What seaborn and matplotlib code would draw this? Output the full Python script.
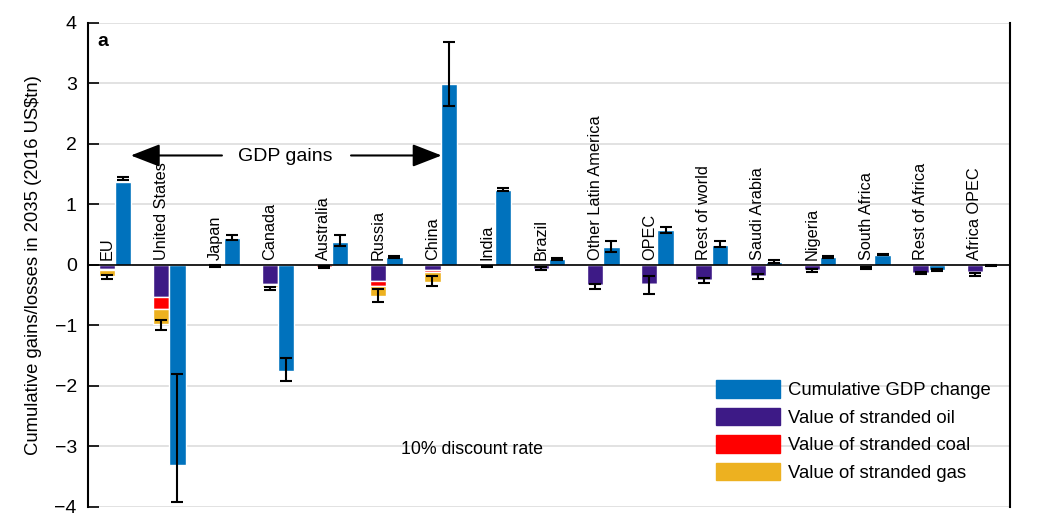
import matplotlib
matplotlib.use('Agg')
import matplotlib.pyplot as plt
import numpy as np
import seaborn as sns
from matplotlib.patches import Patch

# Regions and values (US$tn, 2016)
regions = ['EU', 'United States', 'Japan', 'Canada', 'Australia', 'Russia',
           'China', 'India', 'Brazil', 'Other Latin America', 'OPEC',
           'Rest of world', 'Saudi Arabia', 'Nigeria', 'South Africa',
           'Rest of Africa', 'Africa OPEC']

oil = [-0.07, -0.525, -0.01, -0.32, -0.005, -0.27, -0.08, -0.005, -0.06, -0.33,
       -0.315, -0.25, -0.18, -0.083, -0.015, -0.128, -0.11]
coal = [-0.015, -0.205, 0.0, -0.005, -0.025, -0.07, -0.035, -0.015, 0.0, 0.0,
        0.0, 0.0, 0.0, 0.0, 0.0, 0.0, 0.0]
gas = [-0.10, -0.24, -0.005, -0.045, 0.0, -0.18, -0.16, 0.0, -0.005, -0.005,
       -0.005, -0.012, -0.005, -0.005, -0.02, -0.005, -0.03]
stranded_err_lo = [-0.23, -1.07, -0.03, -0.41, -0.05, -0.62, -0.34, -0.04, -0.08, -0.39,
                   -0.48, -0.30, -0.225, -0.11, -0.07, -0.15, -0.19]
stranded_err_hi = [-0.16, -0.91, -0.005, -0.36, -0.01, -0.40, -0.19, -0.01, -0.04, -0.32,
                   -0.18, -0.22, -0.155, -0.07, -0.03, -0.12, -0.14]

gdp = [1.37, -3.30, 0.44, -1.75, 0.38, 0.13, 2.985, 1.245, 0.10, 0.29,
       0.58, 0.325, 0.045, 0.14, 0.17, -0.083, -0.01]
gdp_err_lo = [1.40, -3.91, 0.41, -1.91, 0.32, 0.12, 2.62, 1.23, 0.09, 0.22,
              0.53, 0.29, 0.03, 0.11, 0.16, -0.10, -0.02]
gdp_err_hi = [1.46, -1.81, 0.50, -1.53, 0.50, 0.15, 3.68, 1.27, 0.12, 0.39,
              0.62, 0.40, 0.09, 0.15, 0.18, -0.06, 0.0]

c_gdp = '#0072BD'
c_oil = '#3d1a86'
c_coal = '#ff0000'
c_gas = '#EDB120'

sns.set_theme(style='white')
plt.rcParams['font.family'] = ['Liberation Sans', 'DejaVu Sans']
plt.rcParams['text.color'] = 'black'
plt.rcParams['axes.labelcolor'] = 'black'
plt.rcParams['ytick.color'] = 'black'

fig = plt.figure(figsize=(10.46, 5.21), dpi=100)
ax = fig.add_axes([0.0841, 0.0269, 0.8815, 0.9290])

x = np.arange(len(regions))
w = 0.3
oil = np.array(oil)
coal = np.array(coal)
gas = np.array(gas)

# stacked stranded assets (negative), left bar of each group
ax.bar(x - w / 2, oil, width=w, color=c_oil, zorder=3)
ax.bar(x - w / 2, coal, width=w, bottom=oil, color=c_coal, zorder=3)
ax.bar(x - w / 2, gas, width=w, bottom=oil + coal, color=c_gas, zorder=3)

# GDP change, right bar
ax.bar(x + w / 2, gdp, width=w, color=c_gdp, zorder=3)

def draw_err(xs, lo, hi):
    lo = np.array(lo)
    hi = np.array(hi)
    ax.errorbar(xs, (lo + hi) / 2, yerr=(hi - lo) / 2, fmt='none',
                ecolor='black', elinewidth=1.5, capsize=4, capthick=1.5, zorder=4)

draw_err(x - w / 2, stranded_err_lo, stranded_err_hi)
draw_err(x + w / 2, gdp_err_lo, gdp_err_hi)

ax.axhline(0, color='black', lw=1.2, zorder=5)

# region labels
for i, name in enumerate(regions):
    ax.text(i - w / 2, 0.09, name, rotation=90, ha='center', va='bottom',
            fontsize=11.7, zorder=6)

ax.set_xlim(-0.5, 16.5)
ax.set_ylim(-4, 4)
ax.set_yticks(range(-4, 5))
ax.set_yticklabels([str(v).replace('-', '\u2212') for v in range(-4, 5)], fontsize=14)
ax.set_xticks([])
ax.yaxis.grid(True, color='#dddddd', lw=1.2, zorder=0)
ax.tick_params(axis='y', direction='in', length=8, width=1.2, color='black',
               labelcolor='black', left=True, pad=8)
for s in ['top', 'bottom']:
    ax.spines[s].set_visible(False)
for s in ['left', 'right']:
    ax.spines[s].set_color('black')
    ax.spines[s].set_linewidth(1.5)

ax.set_ylabel('Cumulative gains/losses in 2035 (2016 US$tn)', fontsize=13.3, labelpad=9)

# annotations
ax.text(0.01, 0.98, 'a', transform=ax.transAxes, fontsize=14, fontweight='bold',
        ha='left', va='top')
ax.text(3.13, 1.8, 'GDP gains', fontsize=14, ha='center', va='center')
ax.annotate('', xy=(0.29, 1.81), xytext=(1.97, 1.81),
            arrowprops=dict(arrowstyle='-|>,head_length=0.9,head_width=0.35',
                            color='black', lw=1.5, mutation_scale=20,
                            shrinkA=0, shrinkB=0))
ax.annotate('', xy=(6.02, 1.81), xytext=(4.35, 1.81),
            arrowprops=dict(arrowstyle='-|>,head_length=0.9,head_width=0.35',
                            color='black', lw=1.5, mutation_scale=20,
                            shrinkA=0, shrinkB=0))
ax.text(6.58, -3.05, '10% discount rate', fontsize=12.8, ha='center', va='center')

handles = [Patch(color=c_gdp), Patch(color=c_oil), Patch(color=c_coal), Patch(color=c_gas)]
labels = ['Cumulative GDP change', 'Value of stranded oil',
          'Value of stranded coal', 'Value of stranded gas']
ax.legend(handles, labels, loc='upper left', bbox_to_anchor=(0.681, 0.262),
          frameon=False, fontsize=13.3, handlelength=3.45, handleheight=1.1,
          handletextpad=0.45, labelspacing=0.45, borderpad=0, borderaxespad=0)

fig.savefig('out.png', dpi=100)
